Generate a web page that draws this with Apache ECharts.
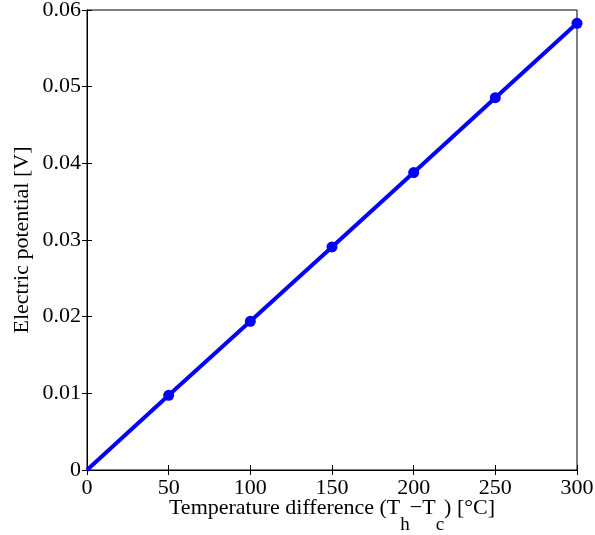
<!DOCTYPE html>
<html>
<head>
<meta charset="utf-8">
<script src="https://cdn.jsdelivr.net/npm/echarts@6/dist/echarts.min.js"></script>
<style>html,body{margin:0;padding:0;background:#fff;}#c{width:595px;height:535px;}</style>
</head>
<body>
<div id="c"></div>
<script>
var temps = [0, 50, 100, 150, 200, 250, 300];
var volts = [0, 0.00974, 0.0194, 0.0291, 0.0388, 0.04856, 0.05826];
var xTicks = [0, 50, 100, 150, 200, 250, 300];
var yTicks = [0, 0.01, 0.02, 0.03, 0.04, 0.05, 0.06];

var data = temps.map(function (t, i) {
  var item = { value: [t, volts[i]] };
  if (i === 0) item.symbol = 'none';
  return item;
});

var font = 'Liberation Serif';
var chart = echarts.init(document.getElementById('c'));
var axisCommon = {
  axisLine: { show: true, lineStyle: { color: '#000', width: 1 } },
  axisTick: { show: true, inside: true, length: 5, lineStyle: { color: '#000' } },
  splitLine: { show: false }
};
chart.setOption({
  animation: false,
  grid: { left: 87, right: 18, top: 10, bottom: 65, show: true, borderColor: '#000', borderWidth: 1,
    containLabel: false, outerBoundsMode: 'none' },
  xAxis: [
    Object.assign({
      type: 'value', min: 0, max: 300, interval: 50, position: 'bottom',
      name: '{m|Temperature difference (T}{s|h}{m|\u2212T}{s|c}{m|) [\u00B0C]}',
      nameLocation: 'middle', nameGap: 27, nameMoveOverlap: false,
      nameTextStyle: { fontFamily: font, fontSize: 22, color: '#000',
        rich: {
          m: { fontFamily: font, fontSize: 22, color: '#000', lineHeight: 22, verticalAlign: 'top' },
          s: { fontFamily: font, fontSize: 19, color: '#000', lineHeight: 19, verticalAlign: 'top', padding: [19, 0, 0, 0] }
        } },
      axisLabel: { fontFamily: font, fontSize: 22, color: '#000', margin: 7 }
    }, axisCommon),
    Object.assign({
      type: 'value', min: 0, max: 300, interval: 50, position: 'top',
      axisLabel: { show: false }
    }, axisCommon)
  ],
  yAxis: [
    Object.assign({
      type: 'value', min: 0, max: 0.06, interval: 0.01, position: 'left',
      name: 'Electric potential [V]', nameLocation: 'middle', nameGap: 54, nameMoveOverlap: false,
      nameTextStyle: { fontFamily: font, fontSize: 22, color: '#000' },
      axisLabel: { fontFamily: font, fontSize: 22, color: '#000', margin: 6, padding: [3, 0, 0, 0],
        formatter: function (v) { return v === 0 ? '0' : v.toFixed(2); } }
    }, axisCommon),
    Object.assign({
      type: 'value', min: 0, max: 0.06, interval: 0.01, position: 'right',
      axisLabel: { show: false }
    }, axisCommon)
  ],
  series: [{
    type: 'line', data: data, xAxisIndex: 0, yAxisIndex: 0,
    symbol: 'circle', symbolSize: 11,
    lineStyle: { color: '#0000ff', width: 4 },
    itemStyle: { color: '#0000ff' },
    clip: false
  }]
});
</script>
</body>
</html>
